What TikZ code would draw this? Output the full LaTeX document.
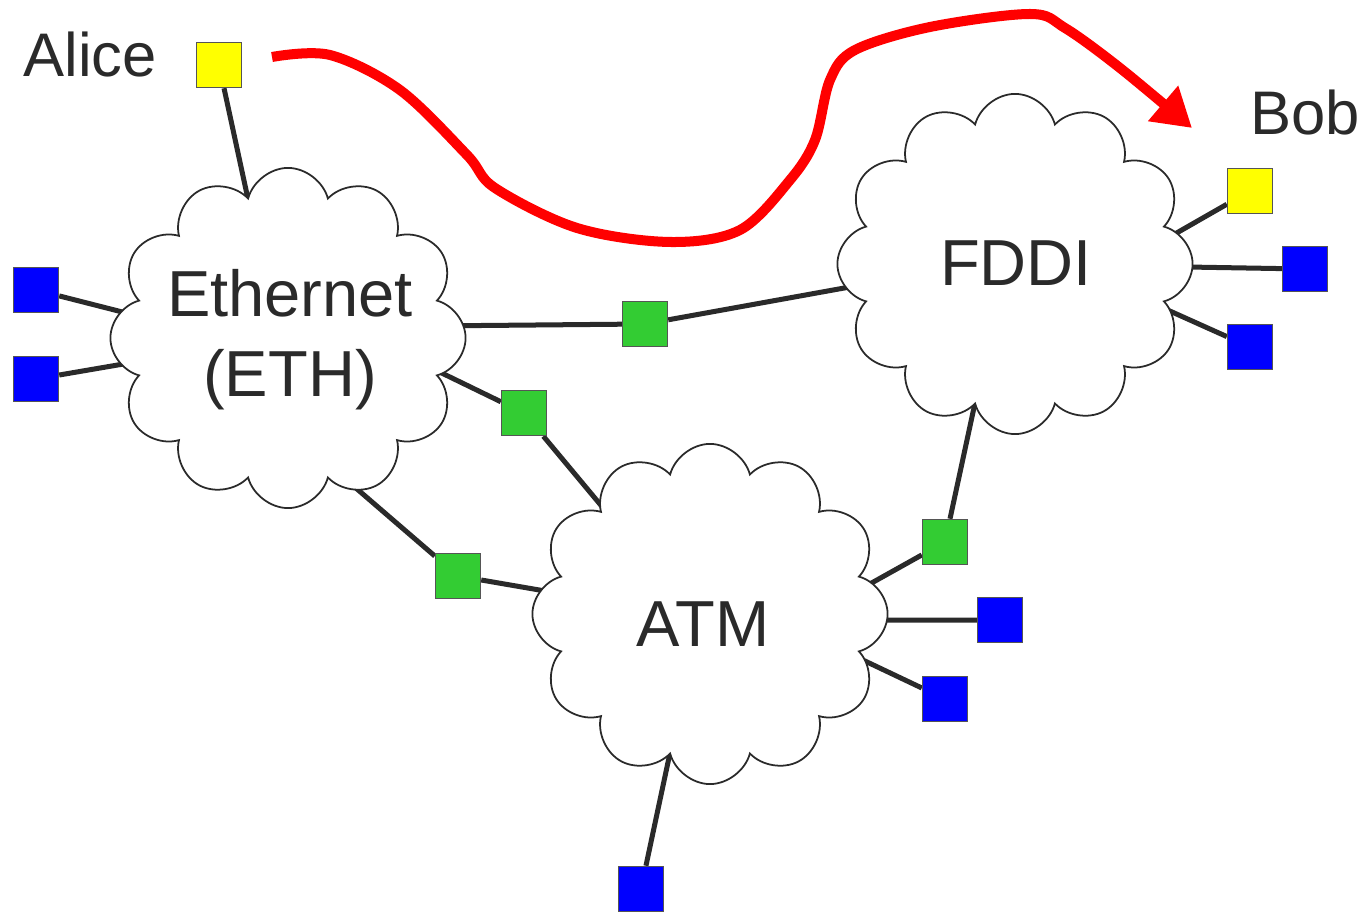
\documentclass[tikz,border=0pt]{standalone}
\usepackage{fontspec}
\setmainfont{Liberation Sans}
\usetikzlibrary{shapes.symbols,arrows.meta,backgrounds}
\definecolor{ink}{HTML}{2A2A2A}
\definecolor{hostyellow}{HTML}{FFFF00}
\definecolor{hostblue}{HTML}{0000FF}
\definecolor{routergreen}{HTML}{33CC33}

\begin{document}
\begin{tikzpicture}[x=0.01cm, y=-0.01cm,
  net/.style={cloud, cloud puffs=12, aspect=1, shape border rotate=15, draw=ink,
    line width=0.5pt, fill=white, inner sep=0pt, minimum width=3.55cm, minimum height=3.4cm},
  netname/.style={align=center, text=ink, font=\fontsize{18.5}{22.7}\selectfont},
  box/.style={draw=ink!80, line width=0.4pt, minimum size=0.45cm, inner sep=0pt},
  host/.style={box, fill=hostblue},
  user/.style={box, fill=hostyellow},
  router/.style={box, fill=routergreen},
  link/.style={draw=ink, line width=0.05cm, shorten >=-0.3cm},
  username/.style={text=ink, font=\fontsize{17.5}{21}\selectfont},
  route/.style={draw=red, line width=0.1cm, -{Triangle[length=0.38cm, width=0.44cm]}}]

\useasboundingbox (0,0) rectangle (1367,913);

% the three networks
\node[net] (eth) at (288,338) {};
\node[net] (fddi) at (1015,264) {};
\node[net] (atm) at (710,614) {};
\node[netname] (ethname) at (290,340) {Ethernet\\(ETH)};
\node[netname] (fddiname) at (1016,263) {FDDI};
\node[netname] (atmname) at (703,624) {ATM};

% end systems
\node[user] (alice) at (219,65) {};
\node[user] (bob) at (1250,191) {};
\node[username] (alicename) at (90,55) {Alice};
\node[username] (bobname) at (1305,113) {Bob};
\node[host] (e1) at (36,290) {};
\node[host] (e2) at (36,379) {};
\node[host] (f1) at (1305,269) {};
\node[host] (f2) at (1250,347) {};
\node[host] (a1) at (1000,620) {};
\node[host] (a2) at (945,699) {};
\node[host] (a3) at (641,889) {};

% routers
\node[router] (r1) at (645,324) {};
\node[router] (r2) at (524,413) {};
\node[router] (r3) at (458,576) {};
\node[router] (r4) at (945,542) {};

\begin{scope}[on background layer]
\draw[link] (alice) -- (eth.106);
\draw[link] (e1) -- (eth.171);
\draw[link] (e2) -- (eth.-171);
\draw[link] (r1) -- (eth.4);
\draw[link] (r1) -- (fddi.-172);
\draw[link] (r2) -- (eth.-13);
\draw[link] (r2) -- (atm.135);
\draw[link] (r3) -- (eth.-65);
\draw[link] (r3) -- (atm.172);
\draw[link] (r4) -- (fddi.-106);
\draw[link] (r4) -- (atm.11);
\draw[link] (bob) -- (fddi.11);
\draw[link] (f1) -- (fddi.-1);
\draw[link] (f2) -- (fddi.-17);
\draw[link] (a1) -- (atm.-2);
\draw[link] (a2) -- (atm.-17);
\draw[link] (a3) -- (atm.-106);
\end{scope}

% path of the message
\coordinate (from) at (272,57);
\coordinate (to) at (1192,128);
\draw[route] plot[smooth, tension=0.55] coordinates {(from) (330,55) (400,90) (467,155) (495,188)
  (577,228) (670,242) (740,230) (790,180) (815,140) (830,80) (855,50) (930,27) (1030,14)
  (1065,28) (1120,68) (to)};
\end{tikzpicture}
\end{document}
